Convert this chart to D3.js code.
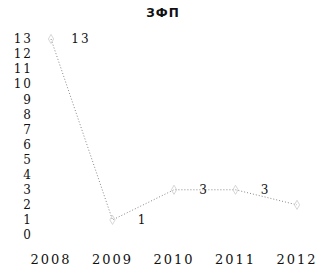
<!DOCTYPE html>
<html>
<head>
<meta charset="utf-8">
<script src="https://cdn.jsdelivr.net/npm/d3@7"></script>
<style>
  body { margin: 0; background: #fff; }
  text { font-family: "DejaVu Serif", serif; fill: #111; }
</style>
</head>
<body>
<div id="chart"></div>
<script>
    // data
    var years = ["2008", "2009", "2010", "2011", "2012"];
    var values = [13, 1, 3, 3, 2];
    var yTicks = [0, 1, 2, 3, 4, 5, 6, 7, 8, 9, 10, 11, 12, 13];
    var title = "ЗФП";

    var width = 322, height = 271;
    var svg = d3.select("#chart").append("svg")
        .attr("width", width)
        .attr("height", height);

    var x = d3.scalePoint().domain(years).range([51, 297]);
    var y = d3.scaleLinear().domain([0, 13]).range([235, 39]);

    // title
    svg.append("text")
        .attr("x", 163).attr("y", 17)
        .attr("text-anchor", "middle")
        .style("font-family", "DejaVu Sans")
        .style("font-weight", "bold")
        .style("font-size", "12px")
        .style("letter-spacing", "1px")
        .text(title);

    // y labels
    svg.append("g").selectAll("text")
        .data(yTicks)
        .enter().append("text")
          .attr("x", 33)
          .attr("y", function(d) { return y(d); })
          .attr("dy", "0.35em")
          .attr("text-anchor", "end")
          .style("font-size", "12px")
          .style("letter-spacing", "2px")
          .text(function(d) { return d; });

    // x labels
    svg.append("g").selectAll("text")
        .data(years)
        .enter().append("text")
          .attr("x", function(d) { return x(d); })
          .attr("y", 264)
          .attr("text-anchor", "middle")
          .style("font-size", "13px")
          .style("letter-spacing", "2px")
          .text(function(d) { return d; });

    var line = d3.line()
        .x(function(d, i) { return x(years[i]); })
        .y(function(d) { return y(d); });

    svg.append("path")
        .datum(values)
        .attr("d", line)
        .attr("fill", "none")
        .attr("stroke", "#888")
        .attr("stroke-width", 1)
        .attr("stroke-dasharray", "1,2");

    // markers
    svg.append("g").selectAll("path")
        .data(values)
        .enter().append("path")
          .attr("transform", function(d, i) { return "translate(" + x(years[i]) + "," + y(d) + ")"; })
          .attr("d", d3.symbol().type(d3.symbolDiamond).size(24))
          .attr("fill", "none")
          .attr("stroke", "#ccc")
          .attr("stroke-width", 0.8);

    // value labels
    svg.append("g").selectAll("text")
        .data(values)
        .enter().append("text")
          .attr("x", function(d, i) { return x(years[i]) + 30; })
          .attr("y", function(d) { return y(d); })
          .attr("dy", "0.35em")
          .attr("text-anchor", "middle")
          .style("font-size", "12px")
          .style("letter-spacing", "2px")
          .text(function(d) { return d; });
</script>
</body>
</html>
